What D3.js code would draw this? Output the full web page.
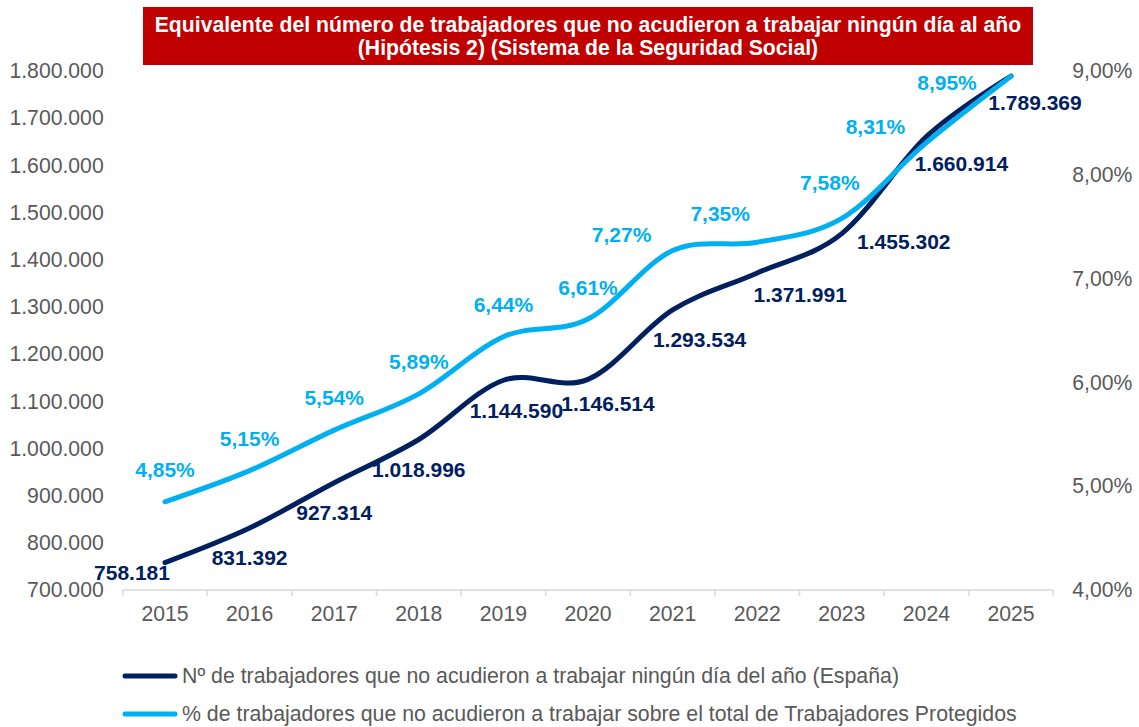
<!DOCTYPE html>
<html><head><meta charset="utf-8">
<script src="https://cdn.jsdelivr.net/npm/d3@7"></script>
<style>
body{margin:0;background:#fff;}
svg{display:block;font-family:"Liberation Sans",Arial,sans-serif;}
</style></head>
<body><svg id="chart" width="1139" height="727"></svg>
<script>
// ---- data ----
const years = ["2015","2016","2017","2018","2019","2020","2021","2022","2023","2024","2025"];
const workers = [758181, 831392, 927314, 1018996, 1144590, 1146514, 1293534, 1371991, 1455302, 1660914, 1789369];
const pct = [4.85, 5.15, 5.54, 5.89, 6.44, 6.61, 7.27, 7.35, 7.58, 8.31, 8.95];
const leftTicks = [700000, 800000, 900000, 1000000, 1100000, 1200000, 1300000, 1400000, 1500000, 1600000, 1700000, 1800000];
const rightTicks = [4, 5, 6, 7, 8, 9];
const titleLines = ["Equivalente del número de trabajadores que no acudieron a trabajar ningún día al año",
                    "(Hipótesis 2) (Sistema de la Seguridad Social)"];
const legendLabels = ["Nº de trabajadores que no acudieron a trabajar ningún día del año (España)",
                      "% de trabajadores que no acudieron a trabajar sobre el total de Trabajadores Protegidos"];

// ---- layout (label offsets relative to points) ----
const workerLabelOff = [[-33,10],[0,30],[0,30],[0,30],[13,30],[20,24],[27,30],[43,22],[62,8],[35,27],[24,27]];
const pctLabelOff = [[0,-32],[0,-32],[0,-32],[0,-32],[0,-32],[0,-31],[-51,-16],[-37,-29],[-12,-36],[-51,-16],[-64,6]];

const navy = "#002060", sky = "#00B0F0", grey = "#595959";
const loc = d3.formatLocale({decimal:",", thousands:".", grouping:[3], currency:["","€"]});
const fmtN = loc.format(",");
const fmtP = v => loc.format(",.2f")(v) + "%";

const svg = d3.select("#chart");
const x = d3.scaleBand().domain(years).range([122.7, 1053.3]).padding(0);
const cx = d => x(d) + x.bandwidth()/2;
const yL = d3.scaleLinear().domain([700000, 1800000]).range([590, 71]);
const yR = d3.scaleLinear().domain([4, 9]).range([590, 71]);

// title
svg.append("rect").attr("x",143).attr("y",7).attr("width",890).attr("height",58).attr("fill","#C00000");
svg.selectAll(".title").data(titleLines).enter().append("text")
  .attr("x",588).attr("y",(d,i)=>25+i*23).attr("dy","0.35em").attr("text-anchor","middle")
  .attr("fill","#fff").attr("font-weight","bold").attr("font-size","21.2px").text(d=>d);

// left axis
const gl = svg.append("g").attr("transform","translate(122.7,0)")
  .call(d3.axisLeft(yL).tickValues(leftTicks).tickSize(0).tickPadding(19).tickFormat(fmtN));
gl.select(".domain").remove();
gl.selectAll("text").attr("font-size","21.2px").attr("fill",grey).attr("font-family","Liberation Sans, Arial, sans-serif");

// right axis
const gr = svg.append("g").attr("transform","translate(1053.3,0)")
  .call(d3.axisRight(yR).tickValues(rightTicks).tickSize(0).tickPadding(19).tickFormat(fmtP));
gr.select(".domain").remove();
gr.selectAll("text").attr("font-size","21.2px").attr("fill",grey).attr("font-family","Liberation Sans, Arial, sans-serif");

// bottom axis
const gb = svg.append("g").attr("transform","translate(0,590)")
  .call(d3.axisBottom(x).tickSize(0).tickPadding(16));
gb.select(".domain").remove();
gb.selectAll("text").attr("font-size","21.2px").attr("fill",grey).attr("font-family","Liberation Sans, Arial, sans-serif");
svg.append("line").attr("x1",x.range()[0]).attr("x2",x.range()[1]).attr("y1",590).attr("y2",590)
  .attr("stroke","#d9d9d9").attr("stroke-width",1.5);
const bounds = years.map(d=>x(d)).concat([x.range()[1]]);
svg.selectAll(".btick").data(bounds).enter().append("line")
  .attr("x1",d=>d).attr("x2",d=>d).attr("y1",590).attr("y2",596)
  .attr("stroke","#d9d9d9").attr("stroke-width",1.5);

// lines
const curve = d3.curveCatmullRom.alpha(0);
const lineW = d3.line().x((d,i)=>cx(years[i])).y(d=>yL(d)).curve(curve);
const lineP = d3.line().x((d,i)=>cx(years[i])).y(d=>yR(d)).curve(curve);
svg.append("path").attr("d",lineW(workers)).attr("fill","none").attr("stroke",navy)
  .attr("stroke-width",5).attr("stroke-linecap","round");
svg.append("path").attr("d",lineP(pct)).attr("fill","none").attr("stroke",sky)
  .attr("stroke-width",5).attr("stroke-linecap","round");

// data labels
svg.selectAll(".wl").data(workers).enter().append("text")
  .attr("x",(d,i)=>cx(years[i])+workerLabelOff[i][0]).attr("y",(d,i)=>yL(d)+workerLabelOff[i][1])
  .attr("dy","0.35em").attr("text-anchor","middle").attr("font-weight","bold").attr("font-size","21px")
  .attr("fill",navy).text(d=>fmtN(d));
svg.selectAll(".pl").data(pct).enter().append("text")
  .attr("x",(d,i)=>cx(years[i])+pctLabelOff[i][0]).attr("y",(d,i)=>yR(d)+pctLabelOff[i][1])
  .attr("dy","0.35em").attr("text-anchor","middle").attr("font-weight","bold").attr("font-size","21px")
  .attr("fill",sky).text(d=>fmtP(d));

// legend
const leg = svg.selectAll(".leg").data(legendLabels).enter().append("g")
  .attr("transform",(d,i)=>`translate(0,${676+i*38})`);
leg.append("line").attr("x1",125).attr("x2",175).attr("y1",0).attr("y2",0)
  .attr("stroke",(d,i)=>i?sky:navy).attr("stroke-width",5).attr("stroke-linecap","round");
leg.append("text").attr("x",182).attr("y",0).attr("dy","0.35em").attr("font-size","21.3px")
  .attr("fill",grey).text(d=>d);
</script></body></html>
